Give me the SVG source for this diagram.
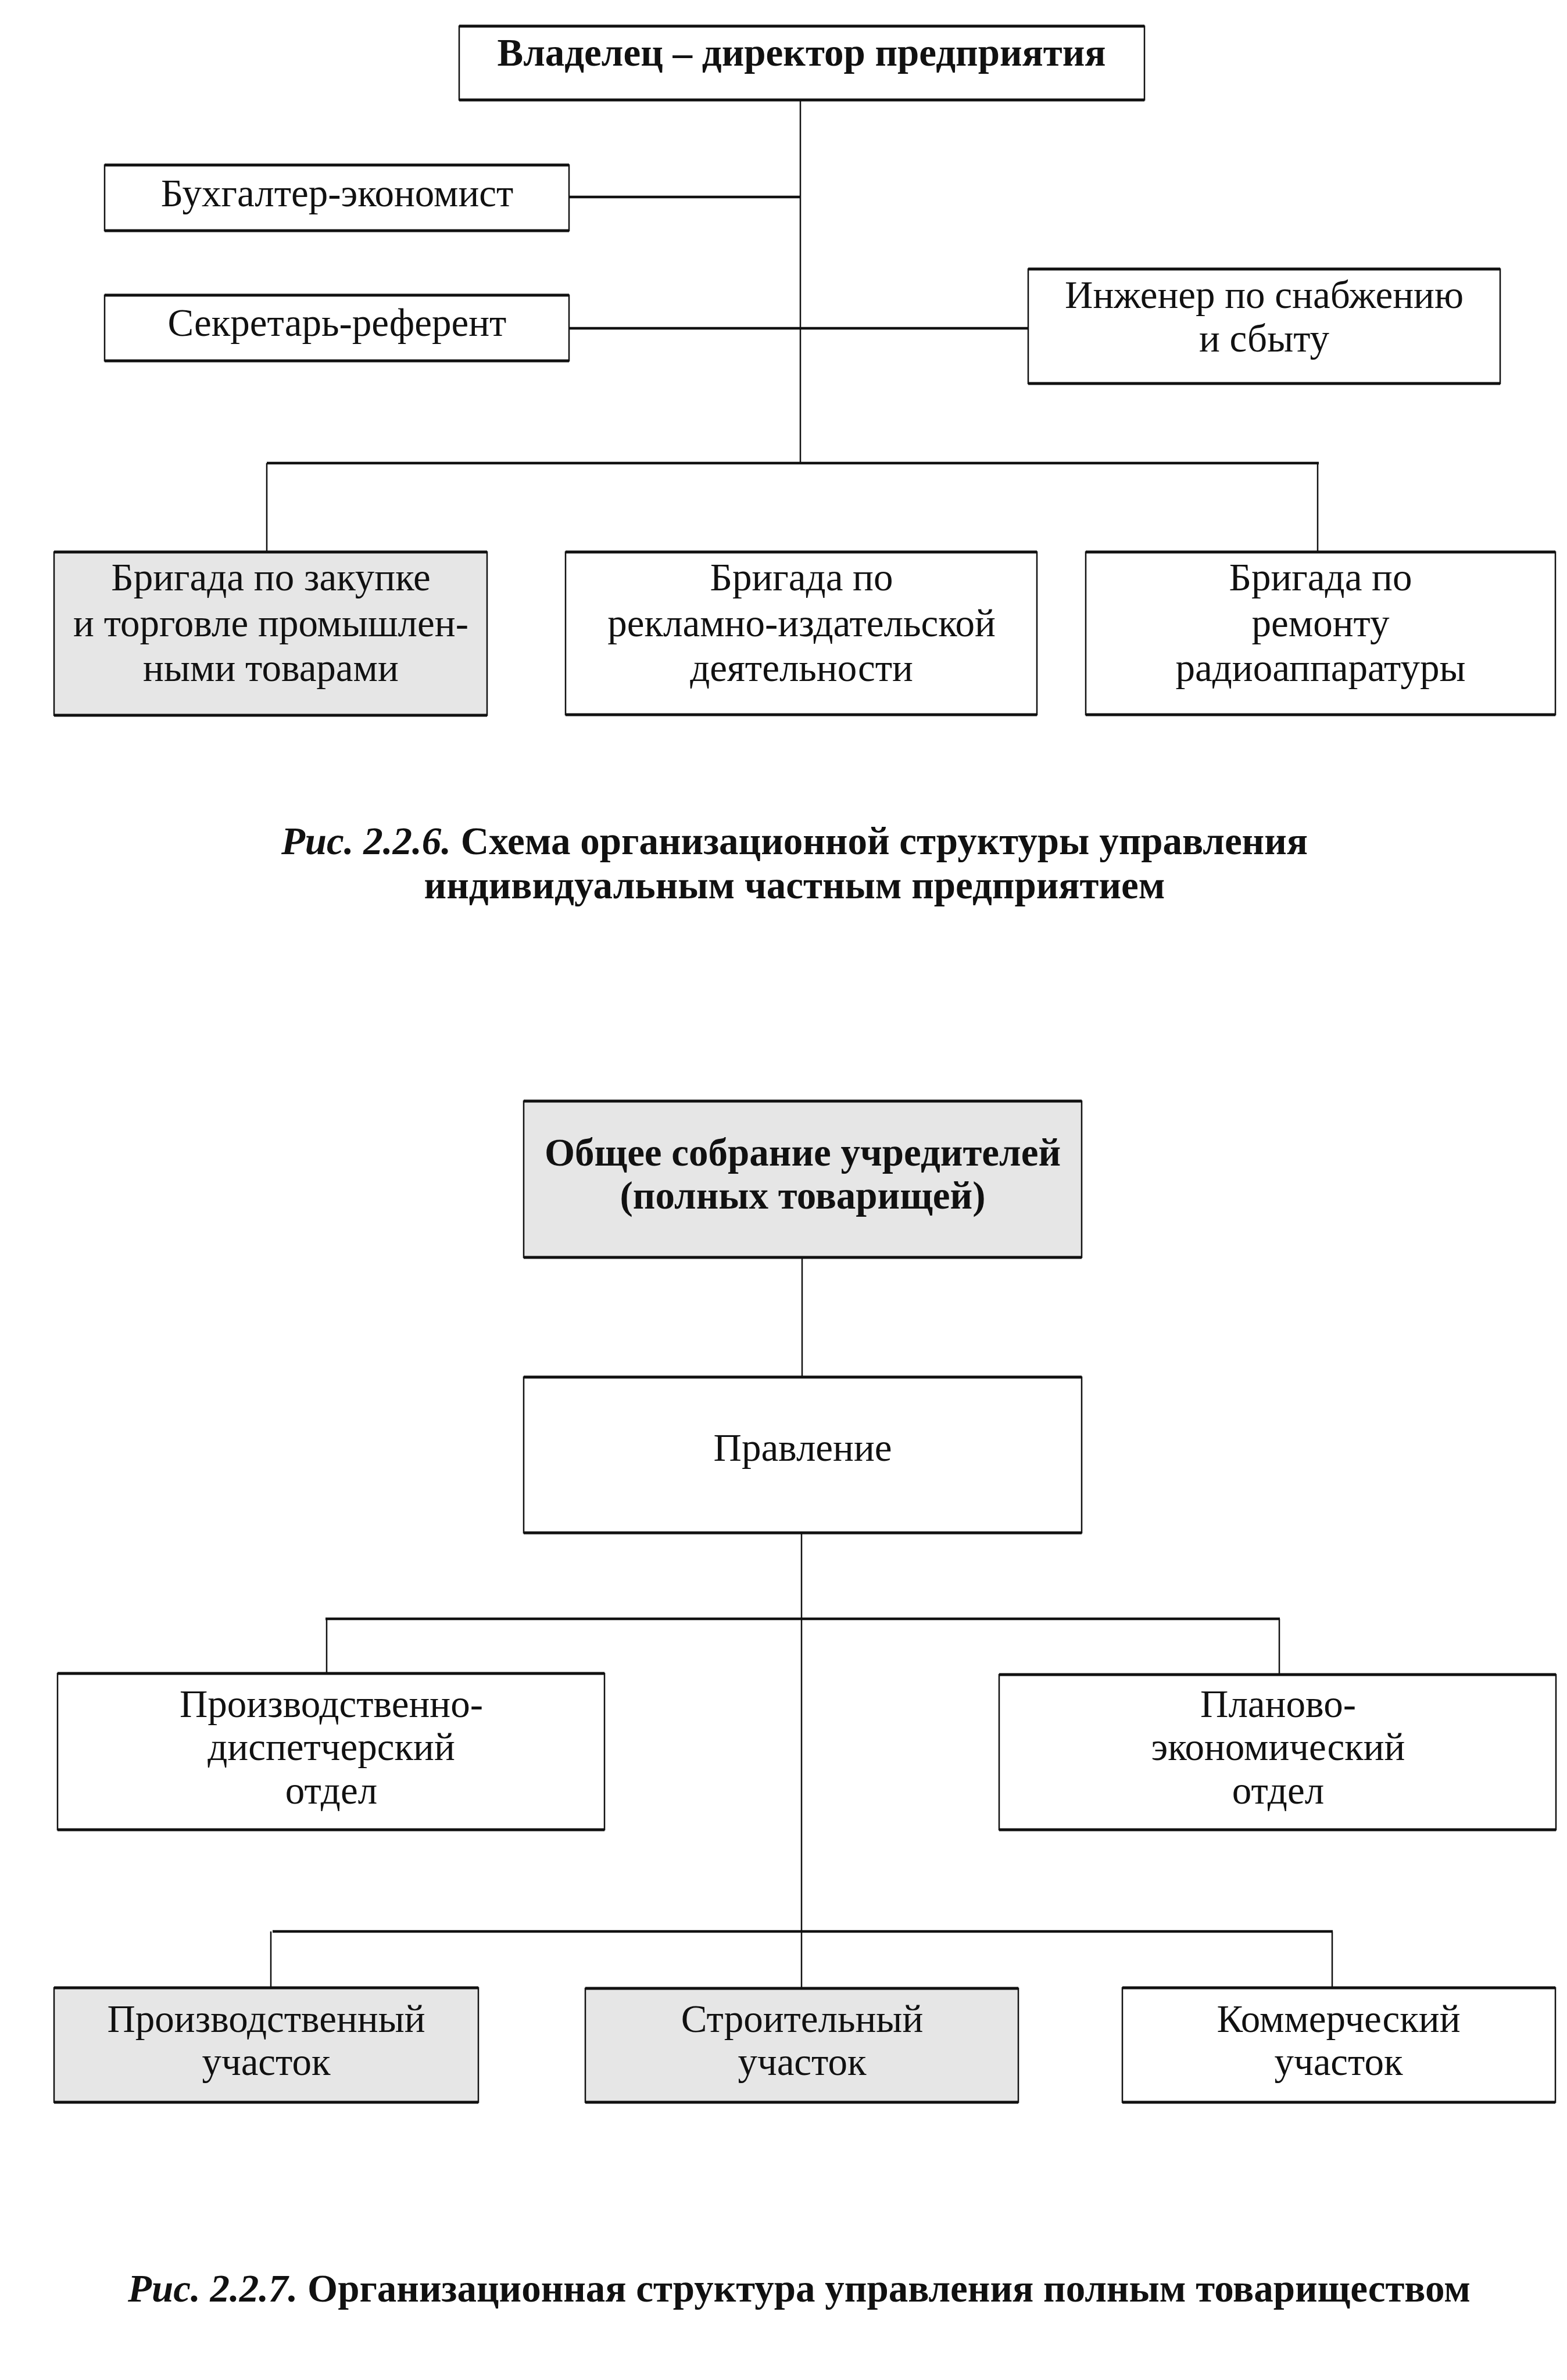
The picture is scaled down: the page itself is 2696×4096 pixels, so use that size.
<svg xmlns="http://www.w3.org/2000/svg" width="2696" height="4096" viewBox="0 0 2696 4096">
<style>
.bg{fill:#ffffff}
.box{fill:#ffffff;stroke:#111;stroke-width:2.5}
.gray{fill:#e6e6e6}
.edge{stroke:#111;stroke-width:5;fill:none}
.h{stroke:#111;stroke-width:4.5;fill:none}
.v{stroke:#111;stroke-width:2.5;fill:none}
text{font-family:"Liberation Serif","Times New Roman",serif;font-size:67px;fill:#111;text-anchor:middle}
.b{font-weight:bold}
.bi{font-weight:bold;font-style:italic}
</style>
<rect class="bg" x="0" y="0" width="2696" height="4096"/>

<g id="connectors1">
<line class="v" x1="1377" y1="172" x2="1377" y2="797"/>
<line class="h" x1="979" y1="339" x2="1377" y2="339"/>
<line class="h" x1="979" y1="565" x2="1769" y2="565"/>
<line class="h" x1="459" y1="797" x2="2269" y2="797"/>
<line class="v" x1="459" y1="797" x2="459" y2="950"/>
<line class="v" x1="2267" y1="797" x2="2267" y2="950"/>
</g>

<g id="owner">
<rect class="box" x="790" y="45" width="1179" height="127"/>
<line class="edge" x1="790" y1="45" x2="1969" y2="45"/><line class="edge" x1="790" y1="172" x2="1969" y2="172"/>
<text class="b" x="1379" y="113">Владелец – директор предприятия</text>
</g>
<g id="accountant">
<rect class="box" x="180" y="284" width="799" height="113"/>
<line class="edge" x1="180" y1="284" x2="979" y2="284"/><line class="edge" x1="180" y1="397" x2="979" y2="397"/>
<text x="580" y="355">Бухгалтер-экономист</text>
</g>
<g id="secretary">
<rect class="box" x="180" y="508" width="799" height="113"/>
<line class="edge" x1="180" y1="508" x2="979" y2="508"/><line class="edge" x1="180" y1="621" x2="979" y2="621"/>
<text x="580" y="578">Секретарь-референт</text>
</g>
<g id="engineer">
<rect class="box" x="1769" y="463" width="812" height="197"/>
<line class="edge" x1="1769" y1="463" x2="2581" y2="463"/><line class="edge" x1="1769" y1="660" x2="2581" y2="660"/>
<text x="2175" y="530">Инженер по снабжению</text>
<text x="2175" y="605">и сбыту</text>
</g>
<g id="brigade1">
<rect class="box gray" x="93" y="950" width="745" height="281"/>
<line class="edge" x1="93" y1="950" x2="838" y2="950"/><line class="edge" x1="93" y1="1231" x2="838" y2="1231"/>
<text x="466" y="1016">Бригада по закупке</text>
<text x="466" y="1095">и торговле промышлен-</text>
<text x="466" y="1172">ными товарами</text>
</g>
<g id="brigade2">
<rect class="box" x="973" y="950" width="811" height="280"/>
<line class="edge" x1="973" y1="950" x2="1784" y2="950"/><line class="edge" x1="973" y1="1230" x2="1784" y2="1230"/>
<text x="1379" y="1016">Бригада по</text>
<text x="1379" y="1095">рекламно-издательской</text>
<text x="1379" y="1172">деятельности</text>
</g>
<g id="brigade3">
<rect class="box" x="1868" y="950" width="808" height="280"/>
<line class="edge" x1="1868" y1="950" x2="2676" y2="950"/><line class="edge" x1="1868" y1="1230" x2="2676" y2="1230"/>
<text x="2272" y="1016">Бригада по</text>
<text x="2272" y="1095">ремонту</text>
<text x="2272" y="1172">радиоаппаратуры</text>
</g>
<g id="caption1">
<text class="b" x="1367" y="1470"><tspan class="bi">Рис. 2.2.6.</tspan> Схема организационной структуры управления</text>
<text class="b" x="1367" y="1546">индивидуальным частным предприятием</text>
</g>

<g id="connectors2">
<line class="v" x1="1380" y1="2164" x2="1380" y2="2370"/>
<line class="v" x1="1379" y1="2638" x2="1379" y2="3421"/>
<line class="h" x1="560" y1="2786" x2="2202" y2="2786"/>
<line class="v" x1="562" y1="2786" x2="562" y2="2880"/>
<line class="v" x1="2201" y1="2786" x2="2201" y2="2882"/>
<line class="h" x1="469" y1="3324" x2="2293" y2="3324"/>
<line class="v" x1="466" y1="3324" x2="466" y2="3421"/>
<line class="v" x1="2292" y1="3324" x2="2292" y2="3421"/>
</g>

<g id="assembly">
<rect class="box gray" x="901" y="1895" width="960" height="269"/>
<line class="edge" x1="901" y1="1895" x2="1861" y2="1895"/><line class="edge" x1="901" y1="2164" x2="1861" y2="2164"/>
<text class="b" x="1381" y="2006">Общее собрание учредителей</text>
<text class="b" x="1381" y="2080">(полных товарищей)</text>
</g>
<g id="board">
<rect class="box" x="901" y="2370" width="960" height="268"/>
<line class="edge" x1="901" y1="2370" x2="1861" y2="2370"/><line class="edge" x1="901" y1="2638" x2="1861" y2="2638"/>
<text x="1381" y="2514">Правление</text>
</g>
<g id="dispatch">
<rect class="box" x="99" y="2880" width="941" height="269"/>
<line class="edge" x1="99" y1="2880" x2="1040" y2="2880"/><line class="edge" x1="99" y1="3149" x2="1040" y2="3149"/>
<text x="570" y="2955">Производственно-</text>
<text x="570" y="3029">диспетчерский</text>
<text x="570" y="3104">отдел</text>
</g>
<g id="planning">
<rect class="box" x="1719" y="2882" width="958" height="267"/>
<line class="edge" x1="1719" y1="2882" x2="2677" y2="2882"/><line class="edge" x1="1719" y1="3149" x2="2677" y2="3149"/>
<text x="2199" y="2955">Планово-</text>
<text x="2199" y="3029">экономический</text>
<text x="2199" y="3104">отдел</text>
</g>
<g id="production">
<rect class="box gray" x="93" y="3421" width="730" height="197"/>
<line class="edge" x1="93" y1="3421" x2="823" y2="3421"/><line class="edge" x1="93" y1="3618" x2="823" y2="3618"/>
<text x="458" y="3497">Производственный</text>
<text x="458" y="3571">участок</text>
</g>
<g id="construction">
<rect class="box gray" x="1007" y="3422" width="745" height="196"/>
<line class="edge" x1="1007" y1="3422" x2="1752" y2="3422"/><line class="edge" x1="1007" y1="3618" x2="1752" y2="3618"/>
<text x="1380" y="3497">Строительный</text>
<text x="1380" y="3571">участок</text>
</g>
<g id="commercial">
<rect class="box" x="1931" y="3421" width="745" height="197"/>
<line class="edge" x1="1931" y1="3421" x2="2676" y2="3421"/><line class="edge" x1="1931" y1="3618" x2="2676" y2="3618"/>
<text x="2303" y="3497">Коммерческий</text>
<text x="2303" y="3571">участок</text>
</g>
<g id="caption2">
<text class="b" x="1375" y="3961"><tspan class="bi">Рис. 2.2.7.</tspan> Организационная структура управления полным товариществом</text>
</g>
</svg>
